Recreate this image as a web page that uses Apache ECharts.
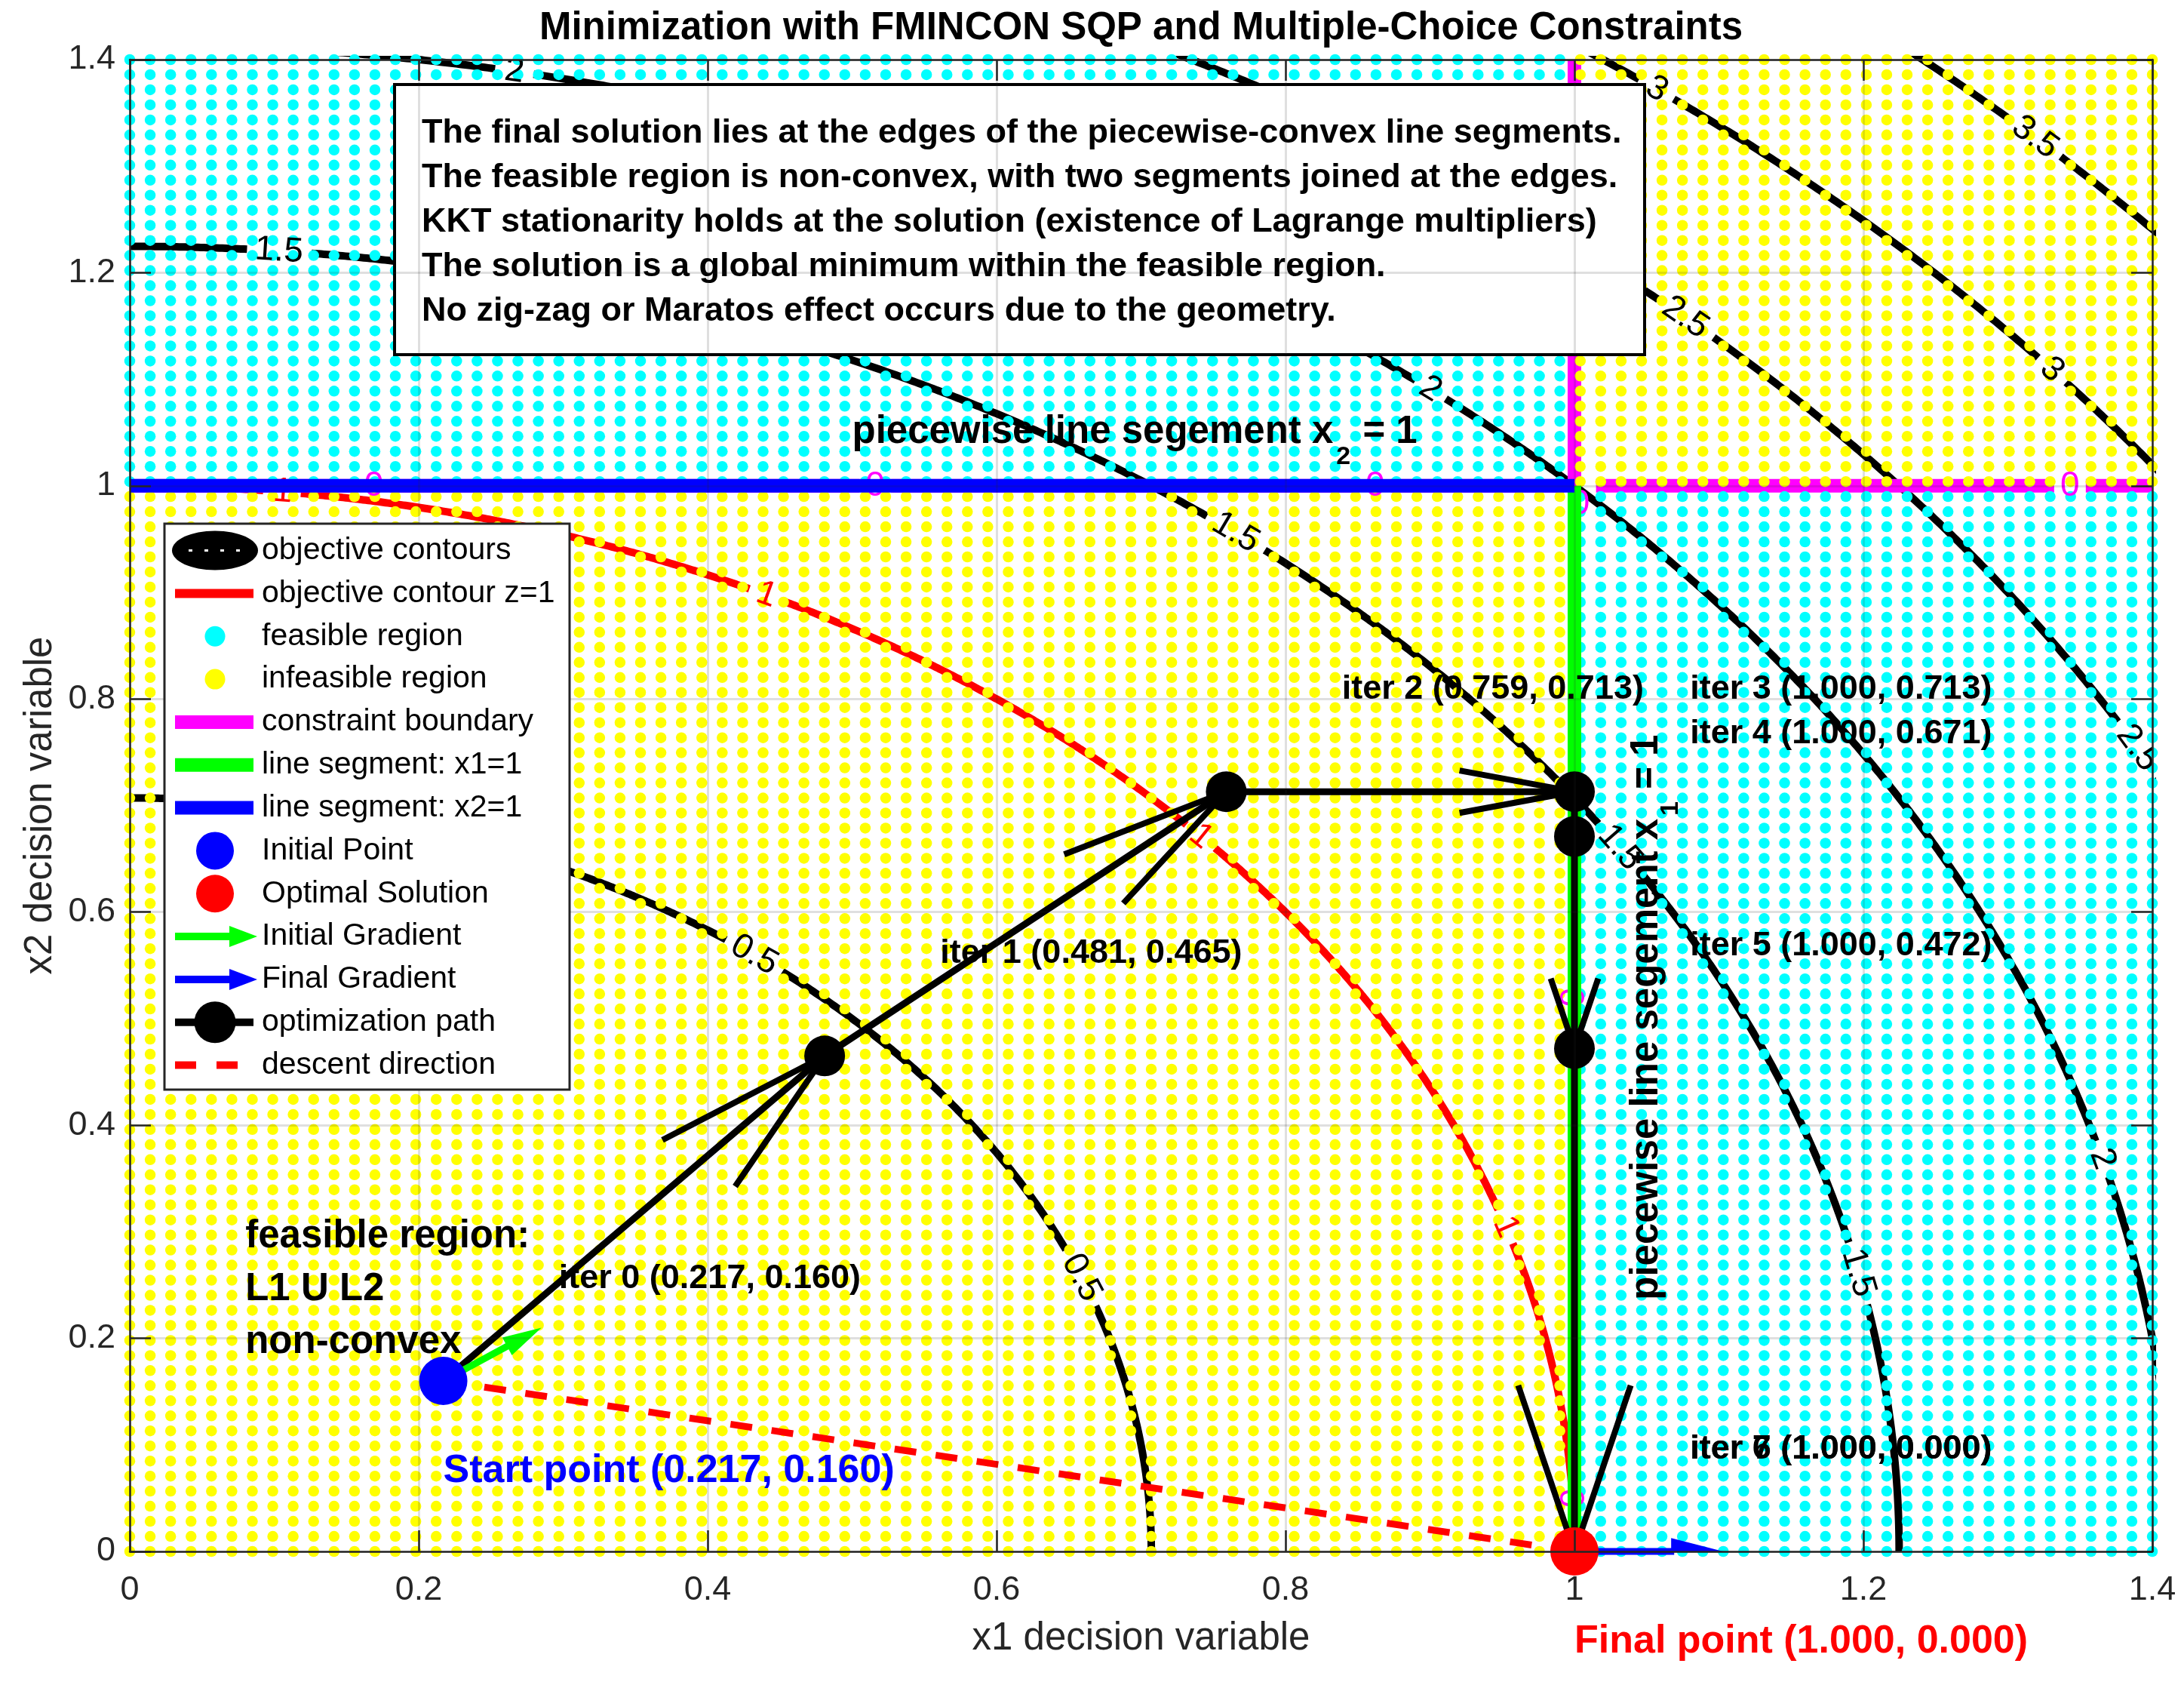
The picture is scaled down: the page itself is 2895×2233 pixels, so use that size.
<!DOCTYPE html>
<html>
<head>
<meta charset="utf-8">
<title>Minimization with FMINCON SQP</title>
<script src="https://cdn.jsdelivr.net/npm/echarts@6.0.0/dist/echarts.min.js"></script>
<style>
  html, body { margin: 0; padding: 0; background: #fff; }
  #chart { width: 2895px; height: 2233px; }
</style>
</head>
<body>
<div id="chart"></div>
<script>
// ---- values ----
const tickLabels = ['0', '0.2', '0.4', '0.6', '0.8', '1', '1.2', '1.4'];
const iterX = [0.217, 0.481, 0.759, 1.000, 1.000, 1.000, 1.000, 1.000];
const iterY = [0.160, 0.465, 0.713, 0.713, 0.671, 0.472, 0.000, 0.000];
const startPoint = [0.217, 0.160];
const finalPoint = [1.000, 0.000];
const initialGrad = [0.068, 0.050];
const finalGrad = [0.103, 0.000];
const contourLevels = [0.5, 1.5, 2, 2.5, 3, 3.5];
const redLevel = 1;
// contour label spots (level, x, y)
const clabelLevel = [0.5, 0.5, 1, 1, 1, 1, 1.5, 1.5, 1.5, 1.5, 2, 2, 2, 2.5, 2.5, 3, 3, 3.5];
const clabelX = [0.428, 0.667, 0.106, 0.439, 0.736, 0.954, 0.103, 0.763, 1.029, 1.190, 0.267, 0.889, 1.372, 1.062, 1.390, 1.053, 1.332, 1.320];
const clabelY = [0.554, 0.260, 0.996, 0.894, 0.666, 0.305, 1.217, 0.953, 0.659, 0.260, 1.393, 1.077, 0.370, 1.142, 0.754, 1.367, 1.110, 1.328];
// "0" labels of the constraint contour
const boundaryLabelX = [0.169, 0.516, 0.862, 1.343, 1.004, 1.000, 1.000];
const boundaryLabelY = [1.000, 1.000, 1.000, 1.000, 0.983, 0.520, 0.050];
const noteLines = [
  'The final solution lies at the edges of the piecewise-convex line segments.',
  'The feasible region is non-convex, with two segments joined at the edges.',
  'KKT stationarity holds at the solution (existence of Lagrange multipliers)',
  'The solution is a global minimum within the feasible region.',
  'No zig-zag or Maratos effect occurs due to the geometry.'
];
const legendNames = [
  'objective contours', 'objective contour z=1', 'feasible region', 'infeasible region',
  'constraint boundary', 'line segment: x1=1', 'line segment: x2=1', 'Initial Point',
  'Optimal Solution', 'Initial Gradient', 'Final Gradient', 'optimization path', 'descent direction'
];
const meshN = 100;
const axMin = 0, axMax = 1.4, axStep = 0.2;

// objective z = x1^2 + x2^2, feasible where (x1-1)(x2-1) < 0
const isFeasible = (x1, x2) => (x1 - 1) * (x2 - 1) < 0;

// ---- layout ----
const FONT = '"Liberation Sans", Arial, Helvetica, sans-serif';
const GRID = { left: 172, top: 79, width: 2681, height: 1977 };
const sx = GRID.width / (axMax - axMin);
const sy = GRID.height / (axMax - axMin);
const CLABEL_FS = 46;

function textW(t, fs) {
  let w = 0;
  for (const c of t) w += (c === '.' ? 0.278 : 0.556);
  return w * fs;
}

function contourGaps(level) {
  const r = Math.sqrt(level);
  const gaps = [];
  clabelLevel.forEach((lv, i) => {
    if (lv !== level) return;
    const th = Math.atan2(clabelY[i], clabelX[i]);
    const speed = r * Math.hypot(Math.sin(th) * sx, Math.cos(th) * sy);
    gaps.push([th, (textW(String(lv), CLABEL_FS) / 2 + 10) / speed]);
  });
  return gaps;
}

function arcSegments(level) {
  const r = Math.sqrt(level);
  const gaps = contourGaps(level);
  const segs = [];
  let cur = [];
  const n = 900;
  for (let k = 0; k <= n; k++) {
    const th = Math.PI / 2 * k / n;
    if (gaps.some(g => Math.abs(th - g[0]) < g[1])) {
      if (cur.length > 1) segs.push(cur);
      cur = [];
      continue;
    }
    cur.push([r * Math.cos(th), r * Math.sin(th)]);
  }
  if (cur.length > 1) segs.push(cur);
  return segs;
}

function intervals(lo, hi, centers, half) {
  const cs = centers.slice().sort((a, b) => a - b);
  const out = [];
  let a = lo;
  cs.forEach(c => {
    if (c - half > a) out.push([a, c - half]);
    a = Math.max(a, c + half);
  });
  if (hi > a) out.push([a, hi]);
  return out;
}

function lineSeries(name, pts, color, width, z, extra) {
  return Object.assign({
    type: 'line', name: name, data: pts, symbol: 'none', showSymbol: false,
    silent: true, clip: true, z: z, animation: false,
    lineStyle: { color: color, width: width, cap: 'butt', join: 'round', opacity: 1 },
    emphasis: { disabled: true }
  }, extra || {});
}

// ---- series ----
const series = [];

contourLevels.forEach(lv => {
  arcSegments(lv).forEach(seg => series.push(lineSeries('objective contours', seg, '#000000', 10, 2)));
});
arcSegments(redLevel).forEach(seg => series.push(lineSeries('objective contour z=1', seg, '#ff0000', 10, 3)));

const hCenters = boundaryLabelX.filter((x, i) => Math.abs(boundaryLabelY[i] - 1) < 0.03);
const vCenters = boundaryLabelY.filter((y, i) => Math.abs(boundaryLabelX[i] - 1) < 0.01);
intervals(axMin, axMax, hCenters, 21 / sx).forEach(([a, b]) =>
  series.push(lineSeries('constraint boundary', [[a, 1], [b, 1]], '#ff00ff', 18, 4)));
intervals(axMin, axMax, vCenters, 21 / sy).forEach(([a, b]) =>
  series.push(lineSeries('constraint boundary', [[1, a], [1, b]], '#ff00ff', 18, 4)));

// region dots
const mesh = Array.from({ length: meshN }, (_, k) => axMin + (axMax - axMin) * k / (meshN - 1));
const feasiblePts = [], infeasiblePts = [];
mesh.forEach(x => mesh.forEach(y => (isFeasible(x, y) ? feasiblePts : infeasiblePts).push([x, y])));
const dotOpts = { symbol: 'circle', symbolSize: 14.5, z: 5, silent: true, animation: false,
  large: false, progressive: 0, progressiveThreshold: 1000000, hoverLayerThreshold: 1000000 };
series.push(Object.assign({ type: 'scatter', name: 'infeasible region', data: infeasiblePts,
  itemStyle: { color: '#ffff00', opacity: 1 } }, dotOpts));
series.push(Object.assign({ type: 'scatter', name: 'feasible region', data: feasiblePts,
  itemStyle: { color: '#00ffff', opacity: 1 } }, dotOpts));

// contour labels (on top of the dots)
series.push({
  type: 'custom', name: 'contour labels', z: 6, silent: true, clip: true, animation: false,
  data: clabelLevel.map((lv, i) => {
    const r = Math.sqrt(lv), th = Math.atan2(clabelY[i], clabelX[i]);
    return [r * Math.cos(th), r * Math.sin(th), i];
  }),
  renderItem: (params, api) => {
    const i = api.value(2);
    const p = api.coord([api.value(0), api.value(1)]);
    const th = Math.atan2(api.value(1), api.value(0));
    const rot = Math.atan2(-Math.cos(th) * sy, Math.sin(th) * sx);
    return {
      type: 'text', x: p[0], y: p[1], rotation: rot,
      style: {
        text: String(clabelLevel[i]), fill: clabelLevel[i] === redLevel ? '#ff0000' : '#000000',
        font: CLABEL_FS + 'px ' + FONT, align: 'center', verticalAlign: 'middle',
        textAlign: 'center', textVerticalAlign: 'middle'
      }
    };
  }
});

series.push({
  type: 'custom', name: 'constraint labels', z: 6, silent: true, clip: true, animation: false,
  data: boundaryLabelX.map((x, i) => [x, boundaryLabelY[i], i]),
  renderItem: (params, api) => {
    const i = api.value(2);
    const p = api.coord([api.value(0), api.value(1)]);
    const vertical = Math.abs(boundaryLabelY[i] - 1) > 0.03;
    return {
      type: 'text', x: p[0], y: p[1], rotation: vertical ? Math.PI / 2 : 0,
      style: {
        text: '0', fill: '#ff00ff', font: CLABEL_FS + 'px ' + FONT,
        align: 'center', verticalAlign: 'middle', textAlign: 'center', textVerticalAlign: 'middle'
      }
    };
  }
});

series.push(lineSeries('line segment: x1=1', [[1, 0], [1, 1]], '#00ff00', 18, 7));
series.push(lineSeries('line segment: x2=1', [[0, 1], [1, 1]], '#0000ff', 18, 7));

series.push(lineSeries('descent direction', [startPoint, finalPoint], '#ff0000', 9, 8, {
  lineStyle: { color: '#ff0000', width: 9, type: [29, 26], cap: 'butt' }
}));

// quiver arrow heads between iterates (alpha 0.33, beta 0.25 of the step)
const headA = 0.33, headB = 0.25;
series.push({
  type: 'custom', name: 'path heads', z: 9, silent: true, clip: false, animation: false,
  data: iterX.slice(1).map((x, i) => [x, iterY[i + 1], i]),
  renderItem: (params, api) => {
    const i = api.value(2);
    const u = iterX[i + 1] - iterX[i], v = iterY[i + 1] - iterY[i];
    if (Math.hypot(u, v) < 1e-9) return { type: 'group', children: [] };
    const x2 = iterX[i + 1], y2 = iterY[i + 1];
    const h1 = api.coord([x2 - headA * (u + headB * v), y2 - headA * (v - headB * u)]);
    const h2 = api.coord([x2 - headA * (u - headB * v), y2 - headA * (v + headB * u)]);
    const tip = api.coord([x2, y2]);
    return {
      type: 'polyline', shape: { points: [h1, tip, h2] },
      style: { stroke: '#000000', lineWidth: 8, fill: null, lineJoin: 'miter' }
    };
  }
});

series.push({
  type: 'line', name: 'optimization path', data: iterX.map((x, i) => [x, iterY[i]]),
  symbol: 'circle', symbolSize: 54, showSymbol: true, showAllSymbol: true, z: 10, silent: true,
  clip: false, animation: false,
  lineStyle: { color: '#000000', width: 9, cap: 'butt' }, itemStyle: { color: '#000000', opacity: 1, borderWidth: 0 },
  emphasis: { disabled: true }
});

// gradient arrows
const grads = [
  { p: startPoint, v: initialGrad, color: '#00ff00' },
  { p: finalPoint, v: finalGrad, color: '#0000ff' }
];
function gradGeom(api, g) {
  const p0 = api.coord(g.p);
  const p1 = api.coord([g.p[0] + g.v[0], g.p[1] + g.v[1]]);
  const dx = p1[0] - p0[0], dy = p1[1] - p0[1], L = Math.hypot(dx, dy);
  const ux = dx / L, uy = dy / L, hl = 0.35 * L, hw = 0.09 * L;
  return { p0, p1, ux, uy, hw, bx: p1[0] - ux * hl, by: p1[1] - uy * hl };
}
series.push({
  type: 'custom', name: 'gradient shafts', z: 11, silent: true, clip: false, animation: false,
  data: grads.map((g, i) => [g.p[0], g.p[1], i]),
  renderItem: (params, api) => {
    const g = grads[api.value(2)], q = gradGeom(api, g);
    return {
      type: 'line', shape: { x1: q.p0[0], y1: q.p0[1], x2: q.bx + q.ux * 4, y2: q.by + q.uy * 4 },
      style: { stroke: g.color, lineWidth: 9 }
    };
  }
});
series.push({
  type: 'custom', name: 'gradient heads', z: 12, silent: true, clip: true, animation: false,
  data: grads.map((g, i) => [g.p[0], g.p[1], i]),
  renderItem: (params, api) => {
    const g = grads[api.value(2)], q = gradGeom(api, g);
    return {
      type: 'polygon',
      shape: { points: [q.p1, [q.bx - q.uy * q.hw, q.by + q.ux * q.hw], [q.bx + q.uy * q.hw, q.by - q.ux * q.hw]] },
      style: { fill: g.color }
    };
  }
});

series.push({
  type: 'scatter', name: 'Initial Point', data: [startPoint], symbolSize: 64,
  itemStyle: { color: '#0000ff', opacity: 1, borderWidth: 0 }, z: 13, clip: false, silent: true, animation: false
});
series.push({
  type: 'scatter', name: 'Optimal Solution', data: [finalPoint], symbolSize: 64,
  itemStyle: { color: '#ff0000', opacity: 1, borderWidth: 0 }, z: 13, clip: false, silent: true, animation: false
});

// text annotations (anchored left / middle like MATLAB text)
const fmt = v => v.toFixed(3);
const annots = [];
iterX.forEach((x, i) => annots.push({
  pos: [x + 0.08, iterY[i] + 0.1], text: 'iter ' + i + ' (' + fmt(x) + ', ' + fmt(iterY[i]) + ')',
  color: '#000000', size: 45
}));
annots.push({ pos: [startPoint[0], startPoint[1] - 0.08],
  text: 'Start point (' + fmt(startPoint[0]) + ', ' + fmt(startPoint[1]) + ')', color: '#0000ff', size: 52 });
annots.push({ pos: [finalPoint[0], finalPoint[1] - 0.08],
  text: 'Final point (' + fmt(finalPoint[0]) + ', ' + fmt(finalPoint[1]) + ')', color: '#ff0000', size: 52 });
annots.push({ pos: [0.08, 0.25], text: 'feasible region:\nL1 U L2\nnon-convex', color: '#000000', size: 51, lineHeight: 70 });
annots.push({ pos: [0.5, 1.05], sub: ['piecewise line segement x', '2', ' = 1'], color: '#000000', size: 51 });
annots.push({ pos: [1.05, 0.236], sub: ['piecewise line segement x', '1', ' = 1'], color: '#000000', size: 51, rotation: Math.PI / 2 });

series.push({
  type: 'custom', name: 'annotations', z: 14, silent: true, clip: false, animation: false,
  data: annots.map((a, i) => [a.pos[0], a.pos[1], i]),
  renderItem: (params, api) => {
    const a = annots[api.value(2)];
    const p = api.coord([api.value(0), api.value(1)]);
    const style = { fill: a.color, align: 'left', verticalAlign: 'middle', textAlign: 'left', textVerticalAlign: 'middle' };
    let dy = 0;
    if (a.sub) {
      style.text = '{m|' + a.sub[0] + '}{s|' + a.sub[1] + '}{m|' + a.sub[2] + '}';
      style.rich = {
        m: { fontSize: a.size, fontWeight: 'bold', fontFamily: FONT, fill: a.color },
        s: { fontSize: 34, fontWeight: 'bold', fontFamily: FONT, fill: a.color, padding: [64, 2, 0, 4] }
      };
    } else {
      style.text = a.text;
      style.font = 'bold ' + a.size + 'px ' + FONT;
      if (a.lineHeight) style.lineHeight = a.lineHeight;
      dy = 0.12 * a.size;
    }
    return { type: 'text', x: p[0], y: p[1] + dy, rotation: a.rotation || 0, style: style };
  }
});

// ---- text box & legend (drawn as graphics) ----
const graphics = [];
graphics.push({ type: 'rect', z: 50, silent: true,
  shape: { x: 523, y: 112, width: 1657, height: 358 }, style: { fill: '#ffffff', stroke: '#000000', lineWidth: 4 } });
graphics.push({ type: 'text', z: 51, silent: true,
  style: { text: noteLines.join('\n'), x: 559, y: 147.5, font: 'bold 45px ' + FONT, fill: '#000000', lineHeight: 59,
    align: 'left', verticalAlign: 'top', textAlign: 'left', textVerticalAlign: 'top' } });

const LG = { x: 218, y: 694, w: 537, h: 750, row0: 729.6, dy: 56.83, icoL: 232, icoR: 336, icoC: 285, textX: 347 };
graphics.push({ type: 'rect', z: 150, silent: true,
  shape: { x: LG.x, y: LG.y, width: LG.w, height: LG.h }, style: { fill: '#ffffff', stroke: '#262626', lineWidth: 3 } });
function lgLine(cy, color, w, dash) {
  return { type: 'line', z: 151, silent: true, shape: { x1: LG.icoL, y1: cy, x2: LG.icoR, y2: cy },
    style: { stroke: color, lineWidth: w, lineDash: dash || null } };
}
function lgDot(cy, color, r) {
  return { type: 'circle', z: 152, silent: true, shape: { cx: LG.icoC, cy: cy, r: r }, style: { fill: color } };
}
function lgArrow(cy, color) {
  return [
    { type: 'line', z: 151, silent: true, shape: { x1: LG.icoL, y1: cy, x2: 308, y2: cy }, style: { stroke: color, lineWidth: 10 } },
    { type: 'polygon', z: 152, silent: true, shape: { points: [[304, cy - 14], [341, cy], [304, cy + 14]] }, style: { fill: color } }
  ];
}
legendNames.forEach((name, i) => {
  const cy = LG.row0 + i * LG.dy;
  graphics.push({ type: 'text', z: 152, silent: true,
    style: { text: name, x: LG.textX, y: cy, font: '41px ' + FONT, fill: '#000000',
      align: 'left', verticalAlign: 'middle', textAlign: 'left', textVerticalAlign: 'middle' } });
  switch (i) {
    case 0:
      graphics.push({ type: 'ellipse', z: 151, silent: true, shape: { cx: LG.icoC, cy: cy, rx: 57, ry: 26 }, style: { fill: '#000000' } });
      graphics.push({ type: 'line', z: 152, silent: true, shape: { x1: 250, y1: cy, x2: 320, y2: cy },
        style: { stroke: '#ffffff', lineWidth: 3, lineDash: [5, 16] } });
      break;
    case 1: graphics.push(lgLine(cy, '#ff0000', 12)); break;
    case 2: graphics.push(lgDot(cy, '#00ffff', 13.5)); break;
    case 3: graphics.push(lgDot(cy, '#ffff00', 13.5)); break;
    case 4: graphics.push(lgLine(cy, '#ff00ff', 18)); break;
    case 5: graphics.push(lgLine(cy, '#00ff00', 18)); break;
    case 6: graphics.push(lgLine(cy, '#0000ff', 18)); break;
    case 7: graphics.push(lgDot(cy, '#0000ff', 25)); break;
    case 8: graphics.push(lgDot(cy, '#ff0000', 25)); break;
    case 9: graphics.push(...lgArrow(cy, '#00ff00')); break;
    case 10: graphics.push(...lgArrow(cy, '#0000ff')); break;
    case 11: graphics.push(lgLine(cy, '#000000', 10)); graphics.push(lgDot(cy, '#000000', 27.5)); break;
    case 12: graphics.push(lgLine(cy, '#ff0000', 10, [28, 27])); break;
  }
});

// ---- axes ----
const tickFmt = v => tickLabels[Math.round((v - axMin) / axStep)];
const axisLine = { show: true, onZero: false, lineStyle: { color: '#262626', width: 2.5 } };
const axisTick = { show: true, inside: true, length: 28, lineStyle: { color: '#262626', width: 2.5 } };
const splitLine = { show: true, lineStyle: { color: 'rgba(38,38,38,0.15)', width: 3 } };
const baseAxis = { type: 'value', min: axMin, max: axMax, interval: axStep, z: 100, axisLine: axisLine, axisTick: axisTick, axisPointer: { show: false } };

const option = {
  animation: false,
  backgroundColor: '#ffffff',
  title: {
    text: 'Minimization with FMINCON SQP and Multiple-Choice Constraints',
    left: GRID.left + GRID.width / 2, top: 12, textAlign: 'center', padding: 0,
    textStyle: { fontSize: 51, fontWeight: 'bold', fontFamily: FONT, color: '#000000' }
  },
  grid: Object.assign({ containLabel: false, outerBoundsMode: 'none' }, GRID),
  xAxis: [
    Object.assign({}, baseAxis, {
      position: 'bottom', name: 'x1 decision variable', nameLocation: 'middle', nameGap: 90,
      nameTextStyle: { fontSize: 51, fontFamily: FONT, color: '#262626' },
      axisLabel: { fontSize: 45, fontFamily: FONT, color: '#262626', margin: 29, formatter: tickFmt },
      splitLine: splitLine
    }),
    Object.assign({}, baseAxis, { position: 'top', axisLabel: { show: false }, splitLine: { show: false } })
  ],
  yAxis: [
    Object.assign({}, baseAxis, {
      position: 'left', name: 'x2 decision variable', nameLocation: 'middle', nameGap: 90,
      nameTextStyle: { fontSize: 51, fontFamily: FONT, color: '#262626' },
      axisLabel: { fontSize: 45, fontFamily: FONT, color: '#262626', margin: 19, formatter: tickFmt },
      splitLine: splitLine
    }),
    Object.assign({}, baseAxis, { position: 'right', axisLabel: { show: false }, splitLine: { show: false } })
  ],
  graphic: { elements: graphics },
  series: series
};

const chart = echarts.init(document.getElementById('chart'), null, { renderer: 'canvas', width: 2895, height: 2233 });
chart.setOption(option);
</script>
</body>
</html>
